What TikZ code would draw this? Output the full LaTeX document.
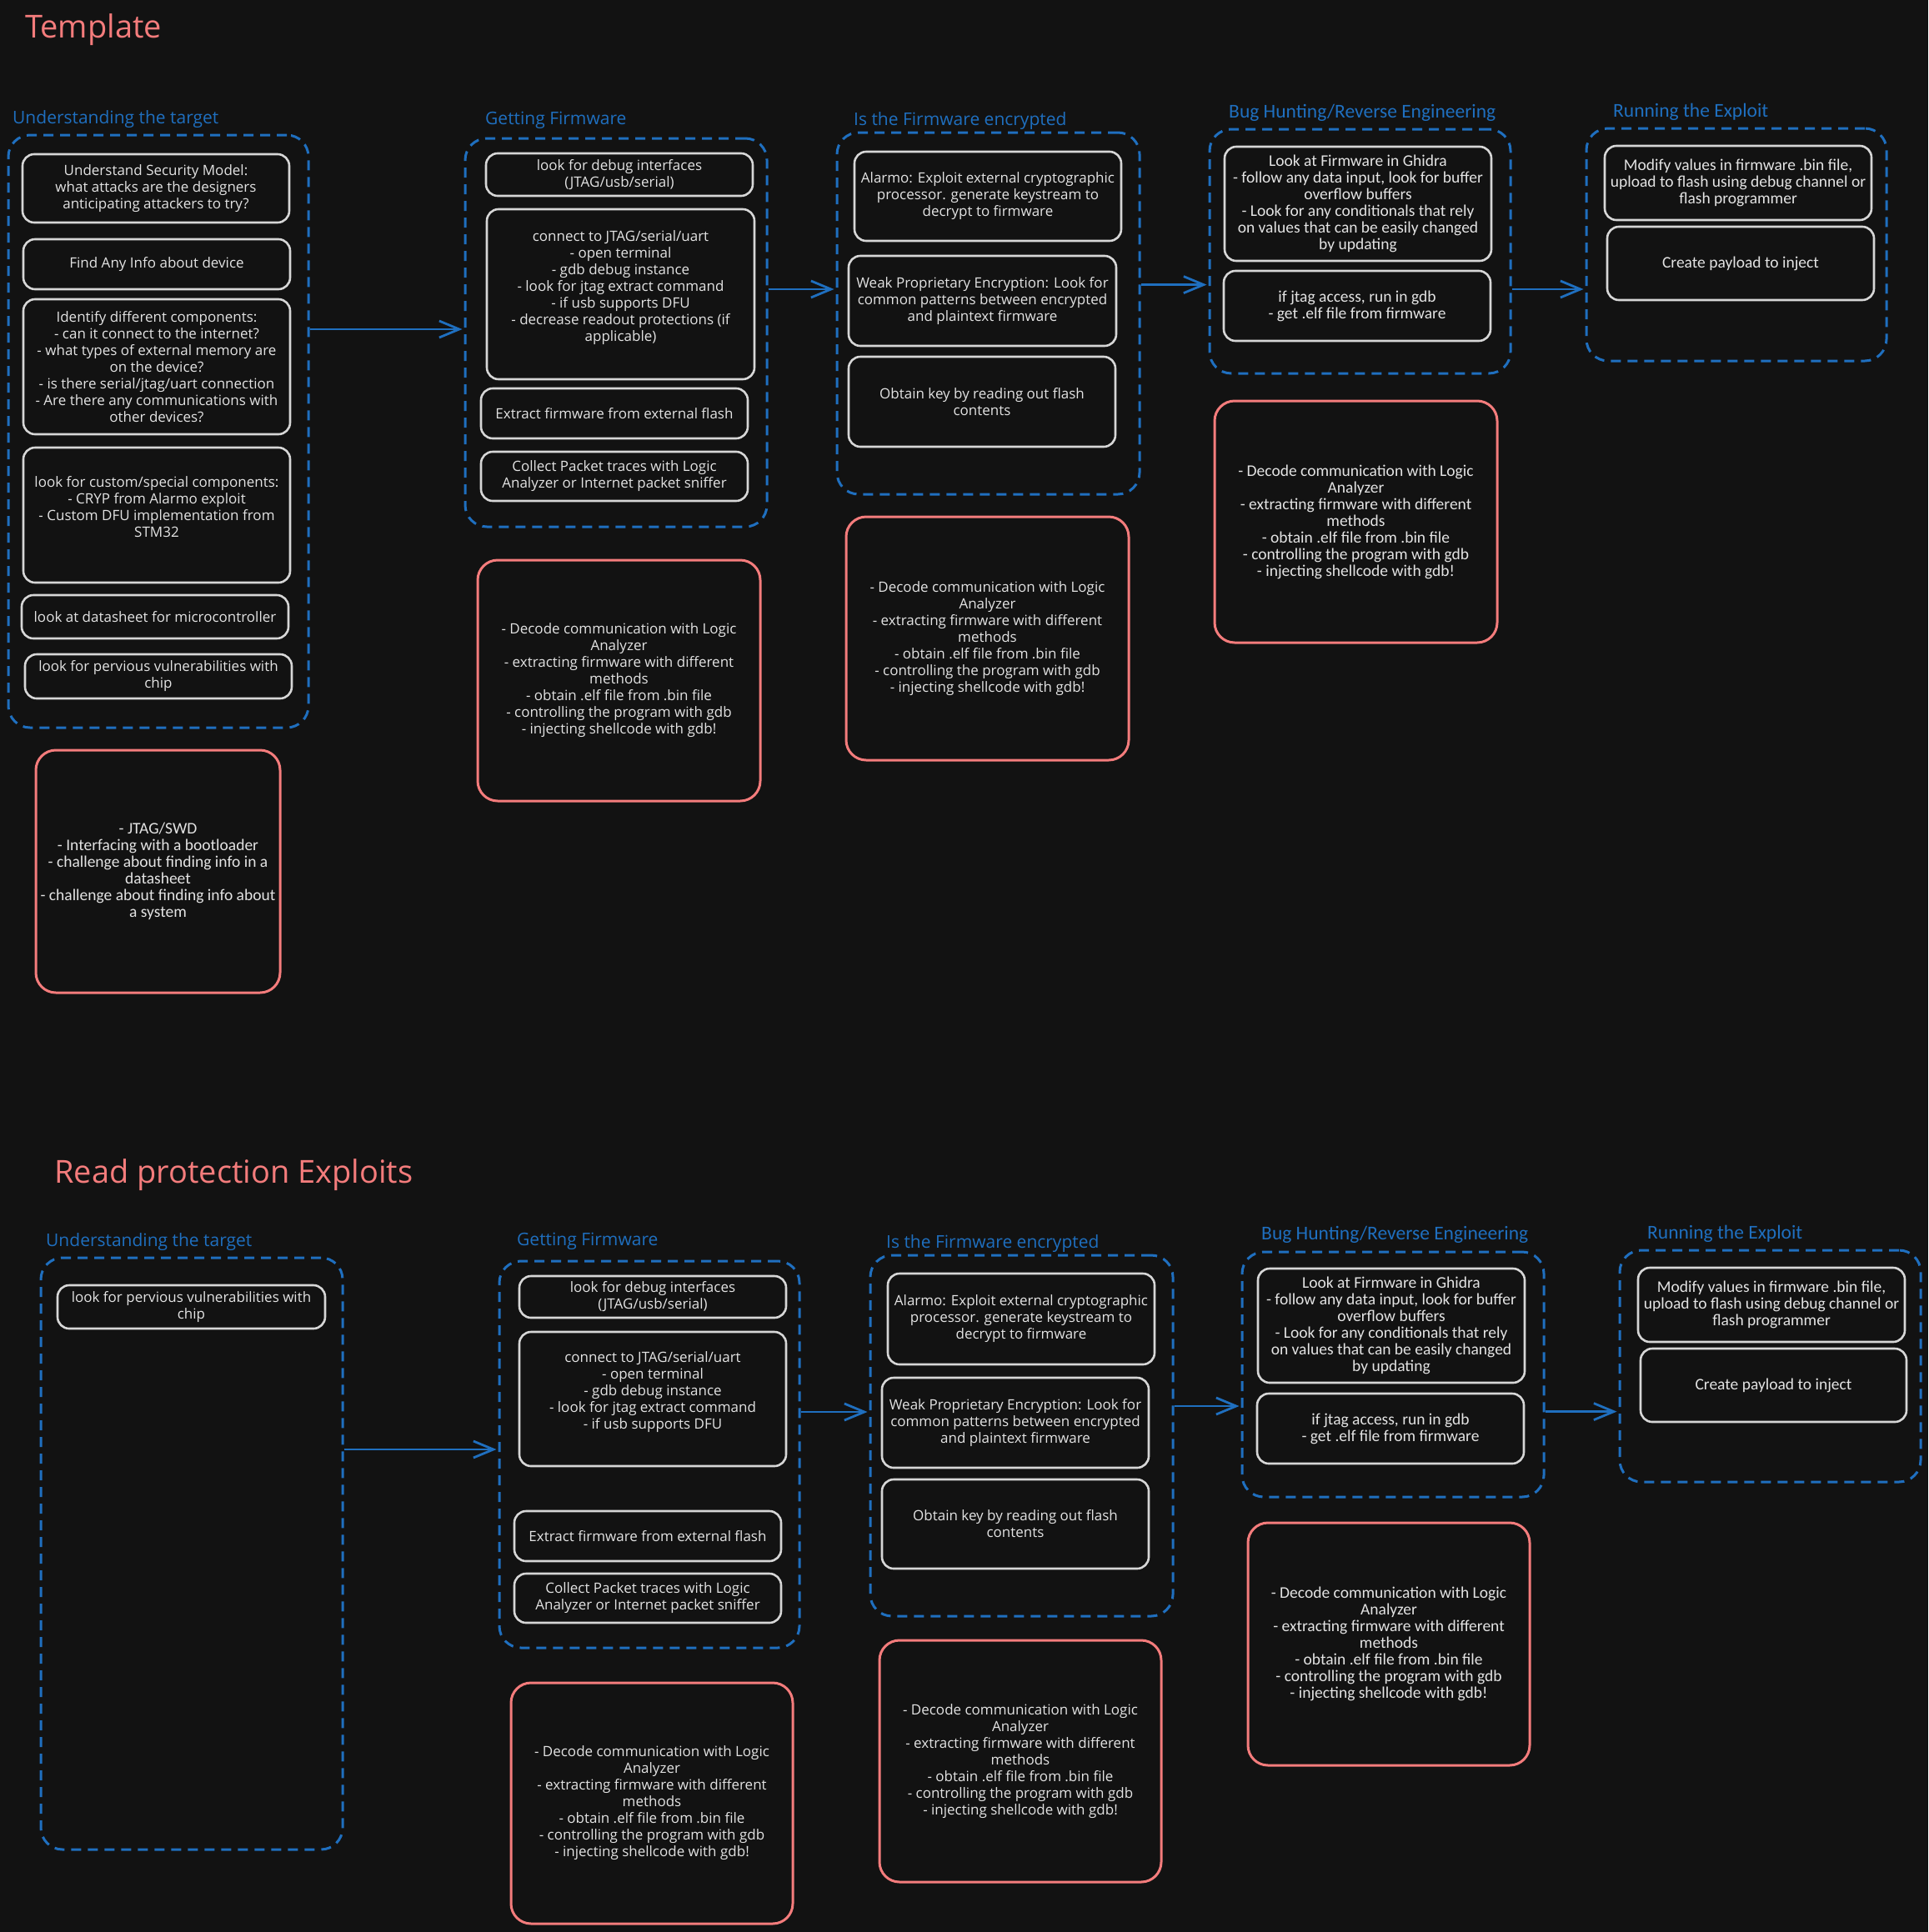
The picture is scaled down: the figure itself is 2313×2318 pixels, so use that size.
\documentclass[tikz,border=0pt]{standalone}
\usepackage{fontspec}
\setmainfont{Open Sans}
\newfontfamily\narrowfont{Carlito}
\usepackage{xcolor}
\usepackage{tikz}
\usetikzlibrary{calc,arrows.meta}
\definecolor{bg}{HTML}{121212}
\definecolor{ink}{HTML}{E3E3E3}
\definecolor{edge}{HTML}{D6D6D6}
\definecolor{sea}{HTML}{1F6FBF}
\definecolor{coral}{HTML}{F47C7C}
\tikzset{
  wh/.style 2 args={minimum width=#1pt, minimum height=#2pt},
  grp/.style={draw=sea, line width=3pt, dash pattern=on 12pt off 8pt, rounded corners=26pt, inner sep=0pt},
  itm/.style={draw=edge, line width=2.6pt, rounded corners=14pt, text=ink, align=center, inner sep=2pt, font=\fontsize{17}{20}\selectfont},
  nte/.style={draw=coral, line width=3pt, rounded corners=24pt, text=ink, align=center, inner sep=2pt, font=\fontsize{17}{20}\selectfont},
  nar/.style={font=\narrowfont\fontsize{19.5}{20}\selectfont},
  hd/.style={text=sea, anchor=base west, inner sep=0pt, font=\fontsize{21}{24}\selectfont},
  hdn/.style={text=sea, anchor=base west, inner sep=0pt, font=\narrowfont\fontsize{23.5}{26}\selectfont},
  ttl/.style={text=coral, anchor=base west, inner sep=0pt, font=\fontsize{38}{44}\selectfont},
  flow/.style={draw=sea, line width=2.8pt, shorten >=2pt, -{Straight Barb[length=24pt,width=20pt]}}
}
\newcommand{\skilllist}{- Decode communication with Logic\\Analyzer\\- extracting firmware with different\\methods\\- obtain .elf file from .bin file\\- controlling the program with gdb\\- injecting shellcode with gdb!}

\begin{document}
\begin{tikzpicture}[x=1pt, y=-1pt]
  \useasboundingbox (0,0) rectangle (2313,2318);
  \fill[bg] (0,0) rectangle (2313,2318);

  % Template
  \node[ttl] (tpl) at (30,45) {Template};

  \node[hd] (hU1) at (15,148) {Understanding the target};
  \node[grp, wh={360}{711}] (U1) at (190,517.5) {};
  \node[itm, wh={320}{82}] (a1) at (187,226) {Understand Security Model:\\what attacks are the designers\\anticipating attackers to try?};
  \node[itm, wh={320}{60}] (a2) at (188,317) {Find Any Info about device};
  \node[itm, wh={320}{162}] (a3) at (188,440) {Identify different components:\\- can it connect to the internet?\\- what types of external memory are\\on the device?\\- is there serial/jtag/uart connection\\- Are there any communications with\\other devices?};
  \node[itm, wh={320}{162}] (a4) at (188,618) {look for custom/special components:\\- CRYP from Alarmo exploit\\- Custom DFU implementation from\\STM32\\~};
  \node[itm, wh={320}{52}] (a5) at (186,740) {look at datasheet for microcontroller};
  \node[itm, wh={320}{53}] (a6) at (190,811.5) {look for pervious vulnerabilities with\\chip};
  \node[nte, nar, wh={293}{291}] (r1) at (189.5,1045.5) {- JTAG/SWD\\- Interfacing with a bootloader\\- challenge about finding info in a\\datasheet\\- challenge about finding info about\\a system};

  \node[hd] (hG1) at (582,149) {Getting Firmware};
  \node[grp, wh={362}{466}] (G1) at (739,399) {};
  \node[itm, wh={320}{51}] (b1) at (743,209.5) {look for debug interfaces\\(JTAG/usb/serial)};
  \node[itm, wh={321}{204}] (b2) at (744.5,353) {connect to JTAG/serial/uart\\- open terminal\\- gdb debug instance\\- look for jtag extract command\\- if usb supports DFU\\- decrease readout protections (if\\applicable)\\~};
  \node[itm, wh={320}{60}] (b3) at (737,496) {Extract firmware from external flash};
  \node[itm, wh={320}{59}] (b4) at (737,571.5) {Collect Packet traces with Logic\\Analyzer or Internet packet sniffer};
  \node[nte, wh={339}{289}] (r2) at (742.5,816.5) {\skilllist};

  \node[hd] (hE1) at (1024,150) {Is the Firmware encrypted};
  \node[grp, wh={363}{434}] (E1) at (1185.5,376) {};
  \node[itm, wh={320}{107}] (c1) at (1185,235.5) {Alarmo: Exploit external cryptographic\\processor. generate keystream to\\decrypt to firmware};
  \node[itm, wh={321}{108}] (c2) at (1178.5,361) {Weak Proprietary Encryption: Look for\\common patterns between encrypted\\and plaintext firmware};
  \node[itm, wh={320}{108}] (c3) at (1178,482) {Obtain key by reading out flash\\contents};
  \node[nte, wh={339}{292}] (r3) at (1184.5,766) {\skilllist};

  \node[hdn] (hH1) at (1474,141) {Bug Hunting/Reverse Engineering};
  \node[grp, wh={361}{293}] (H1) at (1631.5,301.5) {};
  \node[itm, nar, wh={320}{137}] (d1) at (1629,244.5) {Look at Firmware in Ghidra\\- follow any data input, look for buffer\\overflow buffers\\- Look for any conditionals that rely\\on values that can be easily changed\\by updating};
  \node[itm, nar, wh={320}{84}] (d2) at (1628,367) {if jtag access, run in gdb\\- get .elf file from firmware};
  \node[nte, nar, wh={339}{290}] (r4) at (1626.5,626) {\skilllist};

  \node[hdn] (hX1) at (1935,140) {Running the Exploit};
  \node[grp, wh={360}{279}] (X1) at (2083,293.5) {};
  \node[itm, nar, wh={320}{89}] (e1) at (2085,219.5) {Modify values in firmware .bin file,\\upload to flash using debug channel or\\flash programmer};
  \node[itm, nar, wh={320}{88}] (e2) at (2088,316) {Create payload to inject};

  \draw[flow] ([yshift=122.5pt]U1.east) coordinate (p1) -- (p1 -| G1.west);
  \draw[flow] ([yshift=52pt]G1.east) coordinate (p2) -- (p2 -| E1.west);
  \draw[flow] ([yshift=34.4pt]E1.east) coordinate (p3) -- (p3 -| H1.west);
  \draw[flow] ([yshift=-45.5pt]H1.east) coordinate (p4) -- (p4 -| X1.west);

  % Read protection Exploits
  \node[ttl] (rpe) at (65,1419) {Read protection Exploits};

  \node[hd] (hU2) at (55,1495) {Understanding the target};
  \node[grp, wh={362}{710}] (U2) at (230,1864) {};
  \node[itm, wh={321}{52}] (f1) at (229.5,1568) {look for pervious vulnerabilities with\\chip};

  \node[hd] (hG2) at (620,1494) {Getting Firmware};
  \node[grp, wh={360}{464}] (G2) at (779,1745) {};
  \node[itm, wh={320}{50}] (g1) at (783,1556) {look for debug interfaces\\(JTAG/usb/serial)};
  \node[itm, wh={320}{161}] (g2) at (783,1678.5) {connect to JTAG/serial/uart\\- open terminal\\- gdb debug instance\\- look for jtag extract command\\- if usb supports DFU\\~};
  \node[itm, wh={320}{60}] (g3) at (777,1843) {Extract firmware from external flash};
  \node[itm, wh={320}{59}] (g4) at (777,1917.5) {Collect Packet traces with Logic\\Analyzer or Internet packet sniffer};
  \node[nte, wh={338}{289}] (r5) at (782,2163.5) {\skilllist};

  \node[hd] (hE2) at (1063,1497) {Is the Firmware encrypted};
  \node[grp, wh={363}{433}] (E2) at (1225.5,1722.5) {};
  \node[itm, wh={320}{109}] (h1) at (1225,1582.5) {Alarmo: Exploit external cryptographic\\processor. generate keystream to\\decrypt to firmware};
  \node[itm, wh={320}{108}] (h2) at (1218,1707) {Weak Proprietary Encryption: Look for\\common patterns between encrypted\\and plaintext firmware};
  \node[itm, wh={320}{107}] (h3) at (1218,1828.5) {Obtain key by reading out flash\\contents};
  \node[nte, wh={338}{290}] (r6) at (1224,2113) {\skilllist};

  \node[hdn] (hH2) at (1513,1487) {Bug Hunting/Reverse Engineering};
  \node[grp, wh={362}{294}] (H2) at (1671,1649) {};
  \node[itm, nar, wh={320}{137}] (k1) at (1669,1590.5) {Look at Firmware in Ghidra\\- follow any data input, look for buffer\\overflow buffers\\- Look for any conditionals that rely\\on values that can be easily changed\\by updating};
  \node[itm, nar, wh={320}{84}] (k2) at (1668,1714) {if jtag access, run in gdb\\- get .elf file from firmware};
  \node[nte, nar, wh={338}{291}] (r7) at (1666,1972.5) {\skilllist};

  \node[hdn] (hX2) at (1976,1486) {Running the Exploit};
  \node[grp, wh={361}{278}] (X2) at (2123.5,1639) {};
  \node[itm, nar, wh={320}{89}] (m1) at (2125,1565.5) {Modify values in firmware .bin file,\\upload to flash using debug channel or\\flash programmer};
  \node[itm, nar, wh={319}{88}] (m2) at (2127.5,1662) {Create payload to inject};

  \draw[flow] ([yshift=125pt]U2.east) coordinate (q1) -- (q1 -| G2.west);
  \draw[flow] ([yshift=51pt]G2.east) coordinate (q2) -- (q2 -| E2.west);
  \draw[flow] ([yshift=35.5pt]E2.east) coordinate (q3) -- (q3 -| H2.west);
  \draw[flow] ([yshift=-44.6pt]H2.east) coordinate (q4) -- (q4 -| X2.west);
\end{tikzpicture}
\end{document}
